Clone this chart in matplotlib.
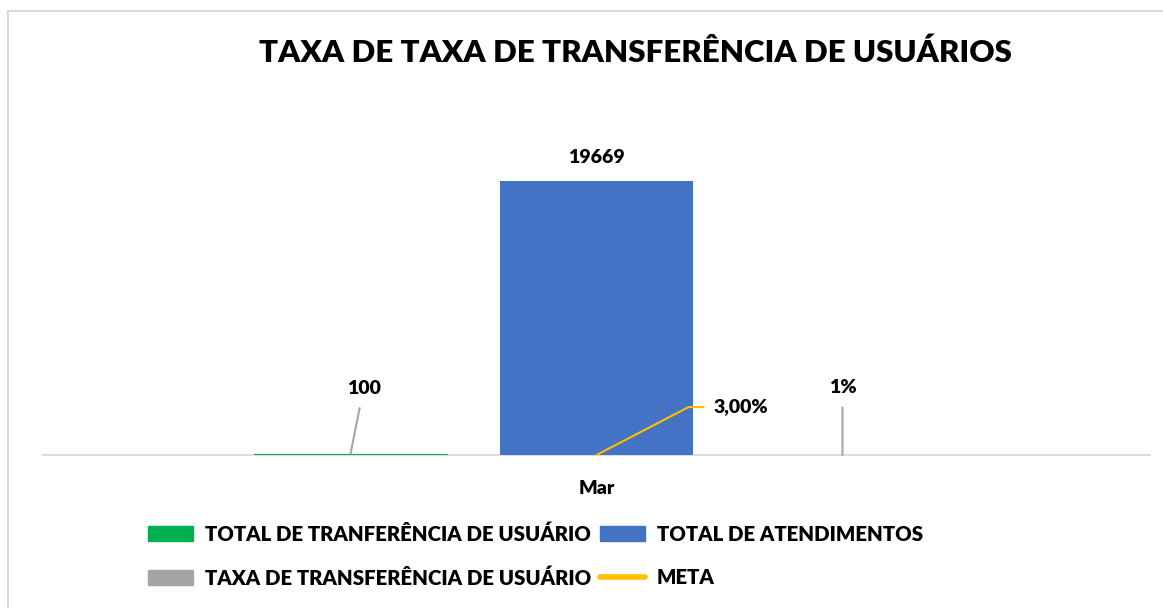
import numpy as np
import matplotlib
matplotlib.use('Agg')
import matplotlib.pyplot as plt
from matplotlib.patches import Patch, Rectangle
from matplotlib.lines import Line2D

plt.rcParams['font.family'] = ['Lato', 'DejaVu Sans']
plt.rcParams['font.weight'] = 'heavy'

# data
categories = ['Mar']
total_transf = [100]
total_atend = [19669]
taxa_transf = [0.01]
meta = [0.03]

labels = ['TOTAL DE TRANFERÊNCIA DE USUÁRIO', 'TOTAL DE ATENDIMENTOS',
          'TAXA DE TRANSFERÊNCIA DE USUÁRIO', 'META']
c_green, c_blue, c_gray, c_meta = '#00b050', '#4472c4', '#a5a5a5', '#ffc000'
WT = 'heavy'

W, H = 1163, 608
fig = plt.figure(figsize=(W / 100, H / 100), dpi=100)
ax = fig.add_axes([43 / W, 1 - 455 / H, (1150 - 43) / W, (455 - 107) / H])

x = np.arange(len(categories))
bw = 0.1743
off = 0.2222
b1 = ax.bar(x - off, total_transf, bw, color=c_green, edgecolor=c_green, linewidth=0.8)
b2 = ax.bar(x, total_atend, bw, color=c_blue)
b3 = ax.bar(x + off, taxa_transf, bw, color=c_gray)
ax.plot(x, meta, color=c_meta, lw=2.5)

ax.set_xlim(-0.5, 0.5)
ax.set_ylim(0, 25000)
ax.set_xticks(x)
ax.set_xticklabels(categories, fontsize=14, fontweight=WT)
ax.tick_params(axis='x', length=0, pad=18)
ax.set_yticks([])
for s in ['top', 'left', 'right']:
    ax.spines[s].set_visible(False)
ax.spines['bottom'].set_color('#d9d9d9')
ax.spines['bottom'].set_linewidth(1.3)
ax.spines['bottom'].set_zorder(0.5)

fs = 14
# data labels
for xi, v in zip(x, total_atend):
    ax.annotate(f'{v}', xy=(xi, v), xytext=(0, 24), textcoords='offset pixels',
                ha='center', va='center', fontsize=fs, fontweight=WT)
for xi, v in zip(x - off, total_transf):
    ax.annotate(f'{v}', xy=(xi, v), xytext=(13, 65), textcoords='offset pixels',
                ha='center', va='center', fontsize=fs, fontweight=WT,
                arrowprops=dict(arrowstyle='-', color='#a6a6a6', lw=1.5,
                                shrinkA=6, shrinkB=0))
for xi, v in zip(x + off, taxa_transf):
    ax.annotate(f'{v:.0%}', xy=(xi, v), xytext=(0, 67), textcoords='offset pixels',
                ha='center', va='center', fontsize=fs, fontweight=WT,
                arrowprops=dict(arrowstyle='-', color='#a6a6a6', lw=1.5,
                                shrinkA=6, shrinkB=0))
for xi, v in zip(x, meta):
    ax.annotate(f'{v:.2%}'.replace('.', ','), xy=(xi, v), xytext=(117, 48),
                textcoords='offset pixels', ha='left', va='center',
                fontsize=fs, fontweight=WT,
                arrowprops=dict(arrowstyle='-', color=c_meta, lw=1.5,
                                shrinkA=5, shrinkB=0, relpos=(0, 0.5),
                                connectionstyle='angle,angleA=0,angleB=27.5,rad=0'))

fig.text(635 / W, 1 - 53 / H, 'TAXA DE TAXA DE TRANSFERÊNCIA DE USUÁRIOS',
         ha='center', va='center', fontsize=22.5, fontweight=WT)

handles = [Patch(color=c_green), Patch(color=c_gray), Patch(color=c_blue),
           Line2D([], [], color=c_meta, lw=4, solid_capstyle='round')]
fig.legend(handles, [labels[0], labels[2], labels[1], labels[3]], ncol=2,
           loc='center left', bbox_to_anchor=(148 / W, 1 - 556 / H),
           frameon=False, prop={'weight': WT, 'size': 14.7},
           borderpad=0, handlelength=2.2, handletextpad=0.6,
           columnspacing=0.4, labelspacing=1.2, borderaxespad=0)

fig.add_artist(Rectangle((8 / W, -0.1), 1.2, 1.1 - 11 / H, transform=fig.transFigure,
                         fill=False, edgecolor='#d9d9d9', lw=1.5))

fig.savefig('out.png', dpi=100)
